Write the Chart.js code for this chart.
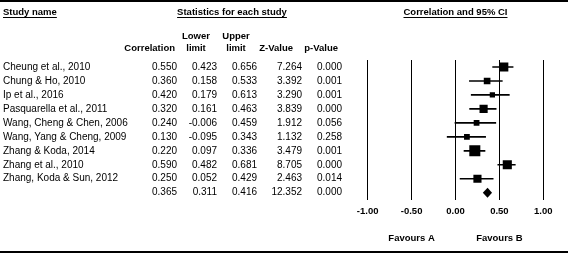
<!DOCTYPE html>
<html>
<head>
<meta charset="utf-8">
<title>Forest plot</title>
<script src="https://cdn.jsdelivr.net/npm/chart.js@4.4.1/dist/chart.umd.min.js"></script>
<style>
  html, body { margin: 0; padding: 0; background: #fff; }
  #wrap { width: 568px; height: 254px; }
</style>
</head>
<body>
<div id="wrap"><canvas id="forest" width="568" height="254"></canvas></div>
<script>
// Gegevens per studie
const studies = ['Cheung et al., 2010', 'Chung & Ho, 2010', 'Ip et al., 2016', 'Pasquarella et al., 2011',
    'Wang, Cheng & Chen, 2006', 'Wang, Yang & Cheng, 2009', 'Zhang & Koda, 2014', 'Zhang et al., 2010',
    'Zhang, Koda & Sun, 2012'];
const correlation = [0.550, 0.360, 0.420, 0.320, 0.240, 0.130, 0.220, 0.590, 0.250];
const lowerLimit = [0.423, 0.158, 0.179, 0.161, -0.006, -0.095, 0.097, 0.482, 0.052];
const upperLimit = [0.656, 0.533, 0.613, 0.463, 0.459, 0.343, 0.336, 0.681, 0.429];
const zValue = [7.264, 3.392, 3.290, 3.839, 1.912, 1.132, 3.479, 8.705, 2.463];
const pValue = [0.000, 0.001, 0.001, 0.000, 0.056, 0.258, 0.001, 0.000, 0.014];
const relWeight = [15, 8, 5, 12, 6, 6, 22, 15, 12]; // geschat uit de grootte van de vierkantjes

// Samenvatting (laatste rij)
const summaryCorr = 0.365;
const summaryLower = 0.311;
const summaryUpper = 0.416;
const summaryZ = 12.352;
const summaryP = 0.000;

const xTicks = [-1, -0.5, 0, 0.5, 1];
const favourLabels = ['Favours A', 'Favours B'];
const favourAt = [-0.5, 0.5];

const rows = [...studies, '']; // lege naam voor de samenvattingsrij
const FONT = '"Liberation Sans", Arial, sans-serif';

function underlined(ctx, text, x, y, align) {
    ctx.textAlign = align;
    ctx.fillText(text, x, y);
    const w = ctx.measureText(text).width;
    const x0 = align === 'center' ? x - w / 2 : (align === 'right' ? x - w : x);
    ctx.fillRect(x0, y + 5, w, 1);
}

const tablePlugin = {
    id: 'forestTable',
    afterDraw(chart) {
        const { ctx, chartArea } = chart;
        const xs = chart.scales.x;
        const ys = chart.scales.y;
        const cols = [177, 217, 257, 302, 342];
        ctx.save();
        ctx.fillStyle = '#000';
        ctx.textBaseline = 'middle';

        // lijnen boven en onder
        ctx.fillRect(0, 0, 568, 2);
        ctx.fillRect(0, 251, 568, 2);

        // koppen
        ctx.font = 'bold 9.5px ' + FONT;
        underlined(ctx, 'Study name', 3, 12, 'left');
        underlined(ctx, 'Statistics for each study', 232, 12, 'center');
        underlined(ctx, 'Correlation and 95% CI', (chartArea.left + chartArea.right) / 2, 12, 'center');
        ctx.textAlign = 'center';
        ctx.fillText('Lower', 196, 36);
        ctx.fillText('limit', 196, 48);
        ctx.fillText('Upper', 236, 36);
        ctx.fillText('limit', 236, 48);
        ctx.textAlign = 'right';
        ctx.fillText('Correlation', 175, 48);
        ctx.fillText('Z-Value', 293, 48);
        ctx.fillText('p-Value', 338, 48);

        // rijen
        ctx.font = '10px ' + FONT;
        studies.forEach((name, i) => {
            const yy = ys.getPixelForValue(i);
            ctx.textAlign = 'left';
            ctx.fillText(name, 3, yy);
            ctx.textAlign = 'right';
            const vals = [correlation[i], lowerLimit[i], upperLimit[i], zValue[i], pValue[i]];
            vals.forEach((v, c) => ctx.fillText(v.toFixed(3), cols[c], yy));
        });
        const ySum = ys.getPixelForValue(studies.length);
        [summaryCorr, summaryLower, summaryUpper, summaryZ, summaryP]
            .forEach((v, c) => ctx.fillText(v.toFixed(3), cols[c], ySum));

        // ruit voor het gepoolde effect
        const xl = xs.getPixelForValue(summaryLower);
        const xr = xs.getPixelForValue(summaryUpper);
        const xc = xs.getPixelForValue(summaryCorr);
        ctx.beginPath();
        ctx.moveTo(xl, ySum);
        ctx.lineTo(xc, ySum - 5);
        ctx.lineTo(xr, ySum);
        ctx.lineTo(xc, ySum + 5);
        ctx.closePath();
        ctx.fill();

        // Favours labels
        ctx.font = 'bold 9.5px ' + FONT;
        ctx.textAlign = 'center';
        favourLabels.forEach((t, k) => ctx.fillText(t, xs.getPixelForValue(favourAt[k]), 238));
        ctx.restore();
    }
};

const ctx = document.getElementById('forest').getContext('2d');
new Chart(ctx, {
    type: 'bar',
    data: {
        labels: rows,
        datasets: [
            {
                // betrouwbaarheidsintervallen als zwevende balkjes
                type: 'bar',
                data: lowerLimit.map((lo, i) => [lo, upperLimit[i]]).concat([null]),
                backgroundColor: '#000',
                barThickness: 1,
                borderWidth: 0
            },
            {
                type: 'line',
                indexAxis: 'y',
                data: correlation.concat([null]),
                showLine: false,
                pointStyle: 'rect',
                pointRadius: relWeight.map(w => Math.sqrt(w) * 2.35 / Math.SQRT2),
                pointBackgroundColor: '#000',
                pointBorderWidth: 0,
                pointHoverRadius: 0
            }
        ]
    },
    options: {
        indexAxis: 'y',
        responsive: false,
        animation: false,
        devicePixelRatio: 1,
        layout: { padding: { left: 367.7, right: 24.7, top: 60, bottom: 34.3 } },
        plugins: { legend: { display: false }, tooltip: { enabled: false } },
        scales: {
            x: {
                type: 'linear',
                min: -1,
                max: 1,
                afterBuildTicks: s => { s.ticks = xTicks.map(v => ({ value: v })); },
                afterFit: s => { s.height = 20; },
                ticks: {
                    padding: 6,
                    color: '#000',
                    font: { family: FONT, size: 9.5, weight: 'bold' },
                    callback: v => v.toFixed(2)
                },
                grid: { color: '#000', lineWidth: 1, drawTicks: false },
                border: { display: false }
            },
            y: {
                type: 'category',
                display: false,
                offset: true,
                grid: { display: false }
            }
        }
    },
    plugins: [tablePlugin]
});
</script>
</body>
</html>
